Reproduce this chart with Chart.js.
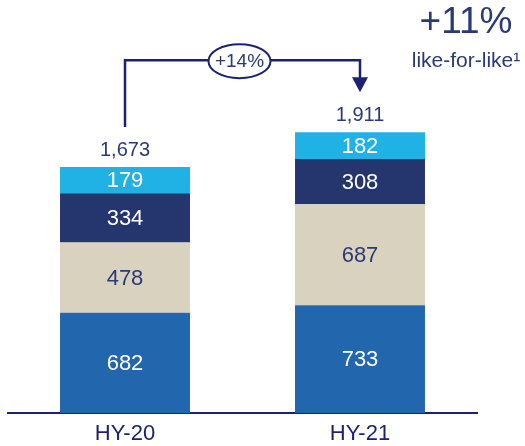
<!DOCTYPE html>
<html>
<head>
<meta charset="utf-8">
<script src="https://cdn.jsdelivr.net/npm/chart.js@4/dist/chart.umd.min.js"></script>
<style>
  body { margin: 0; background: #fff; }
  #wrap { width: 525px; height: 446px; position: relative; }
</style>
</head>
<body>
<div id="wrap"><canvas id="revenueChart"></canvas></div>
<script>
// chart values
const periods = ['HY-20', 'HY-21'];
const segmentA = [682, 733];   // bottom, mid blue
const segmentB = [478, 687];   // beige
const segmentC = [334, 308];   // navy
const segmentD = [179, 182];   // light blue, top
const totals = [1673, 1911];
const growthLabel = '+14%';
const headlineValue = '+11%';
const headlineNote = 'like-for-like\u00B9';

const navy = '#1c2270';
const textNavy = '#2b3a74';
const fontFamily = '"Liberation Sans", Arial, sans-serif';

const segments = [
    { data: segmentA, color: '#2267ad', text: '#ffffff' },
    { data: segmentB, color: '#d9d2bf', text: textNavy },
    { data: segmentC, color: '#25356e', text: '#ffffff' },
    { data: segmentD, color: '#20b1e5', text: '#ffffff' }
];

// labels inside bars, totals above, bracket and headline
const annotations = {
    id: 'annotations',
    afterDatasetsDraw(chart) {
        const ctx = chart.ctx;
        const xs = chart.scales.x;
        const ys = chart.scales.y;
        ctx.save();
        ctx.textAlign = 'center';
        ctx.textBaseline = 'middle';

        // segment values
        chart.data.datasets.forEach((ds, i) => {
            const meta = chart.getDatasetMeta(i);
            meta.data.forEach((bar, j) => {
                const mid = (bar.y + bar.base) / 2;
                ctx.fillStyle = segments[i].text;
                ctx.font = '22px ' + fontFamily;
                ctx.fillText(ds.data[j], bar.x, mid + 1);
            });
        });

        // totals
        const tops = [];
        periods.forEach((p, j) => {
            const stackSum = segments.reduce((s, seg) => s + seg.data[j], 0);
            const top = ys.getPixelForValue(stackSum);
            tops.push(top);
            ctx.fillStyle = textNavy;
            ctx.font = '20px ' + fontFamily;
            ctx.fillText(totals[j].toLocaleString('en-US'), xs.getPixelForValue(j), top - 17);
        });

        // bracket with arrow
        const x0 = xs.getPixelForValue(0);
        const x1 = xs.getPixelForValue(1);
        const lineY = tops[1] - 72;
        const tipY = tops[1] - 40;
        ctx.strokeStyle = navy;
        ctx.lineWidth = 2.5;
        ctx.beginPath();
        ctx.moveTo(x0, tops[0] - 40);
        ctx.lineTo(x0, lineY);
        ctx.lineTo(x1, lineY);
        ctx.lineTo(x1, tipY - 14);
        ctx.stroke();
        ctx.fillStyle = navy;
        ctx.beginPath();
        ctx.moveTo(x1 - 8, tipY - 15);
        ctx.lineTo(x1 + 8, tipY - 15);
        ctx.lineTo(x1, tipY);
        ctx.closePath();
        ctx.fill();

        // growth bubble
        const cx = (x0 + x1) / 2 - 3;
        ctx.beginPath();
        ctx.ellipse(cx, lineY + 1, 31, 17, 0, 0, Math.PI * 2);
        ctx.fillStyle = '#ffffff';
        ctx.fill();
        ctx.lineWidth = 2;
        ctx.stroke();
        ctx.fillStyle = textNavy;
        ctx.font = '19px ' + fontFamily;
        ctx.fillText(growthLabel, cx, lineY + 2);

        // headline top right
        ctx.font = '37px ' + fontFamily;
        ctx.fillText(headlineValue, 466, 23);
        ctx.font = '21px ' + fontFamily;
        ctx.fillText(headlineNote, 466, 61);
        ctx.restore();
    }
};

const ctx = document.getElementById('revenueChart').getContext('2d');
new Chart(ctx, {
    type: 'bar',
    data: {
        labels: periods,
        datasets: segments.map(seg => ({
            data: seg.data,
            backgroundColor: seg.color,
            borderWidth: 0,
            barPercentage: 0.553,
            categoryPercentage: 1
        }))
    },
    options: {
        responsive: true,
        maintainAspectRatio: false,
        animation: false,
        layout: { padding: { left: 7.5, right: 47.5, top: 16, bottom: 0 } },
        plugins: {
            legend: { display: false },
            tooltip: { enabled: false }
        },
        scales: {
            x: {
                stacked: true,
                grid: { display: false, drawTicks: false },
                border: { display: true, color: navy, width: 2 },
                ticks: {
                    color: navy,
                    padding: 8,
                    font: { size: 22, family: fontFamily }
                },
                afterFit: scale => { scale.height = 33; }
            },
            y: {
                stacked: true,
                display: false,
                min: 0,
                max: 2700
            }
        }
    },
    plugins: [annotations]
});
</script>
</body>
</html>
